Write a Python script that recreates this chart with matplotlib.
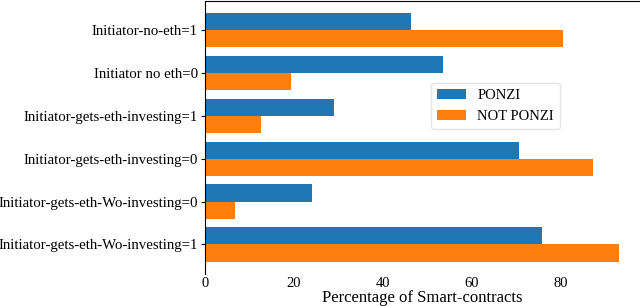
import matplotlib
matplotlib.use("Agg")
import matplotlib.pyplot as plt
import numpy as np

categories = [
    "Initiator-no-eth=1",
    "Initiator no eth=0",
    "Initiator-gets-eth-investing=1",
    "Initiator-gets-eth-investing=0",
    "Initiator-gets-eth-Wo-investing=0",
    "Initiator-gets-eth-Wo-investing=1",
]
ponzi = [46.4, 53.4, 29.1, 70.5, 24.1, 75.7]
not_ponzi = [80.5, 19.4, 12.6, 87.2, 6.8, 93.1]
series_labels = ["PONZI", "NOT PONZI"]
xticks = [0, 20, 40, 60, 80]

plt.rcParams['font.family'] = ['Liberation Serif', 'DejaVu Serif']

fig = plt.figure(figsize=(6.4, 3.06), dpi=100)
ax = fig.add_axes([205/640, 1 - 274/306, 435/640, 274/306 - 0.002])

y = np.arange(len(categories))
h = 0.4
ax.barh(y - h/2, ponzi, height=h, color="#1f77b4", label=series_labels[0])
ax.barh(y + h/2, not_ponzi, height=h, color="#ff7f0e", label=series_labels[1])
ax.set_yticks(y)
ax.set_yticklabels(categories, fontsize=10.7)
ax.invert_yaxis()
ax.set_xticks(xticks)
ax.set_xticklabels([str(t) for t in xticks], fontsize=10.5)
ax.tick_params(axis='x', length=0, pad=2)
ax.tick_params(axis='y', length=3, pad=2)
ax.spines['bottom'].set_visible(False)
ax.spines['right'].set_visible(False)
ax.set_xlabel("Percentage of Smart-contracts", fontsize=12, labelpad=0)
ax.legend(loc='upper left', bbox_to_anchor=(0.519, 0.697), borderaxespad=0,
          fontsize=10.5, frameon=True, edgecolor='#dddddd')

fig.savefig("out.png", dpi=100)
